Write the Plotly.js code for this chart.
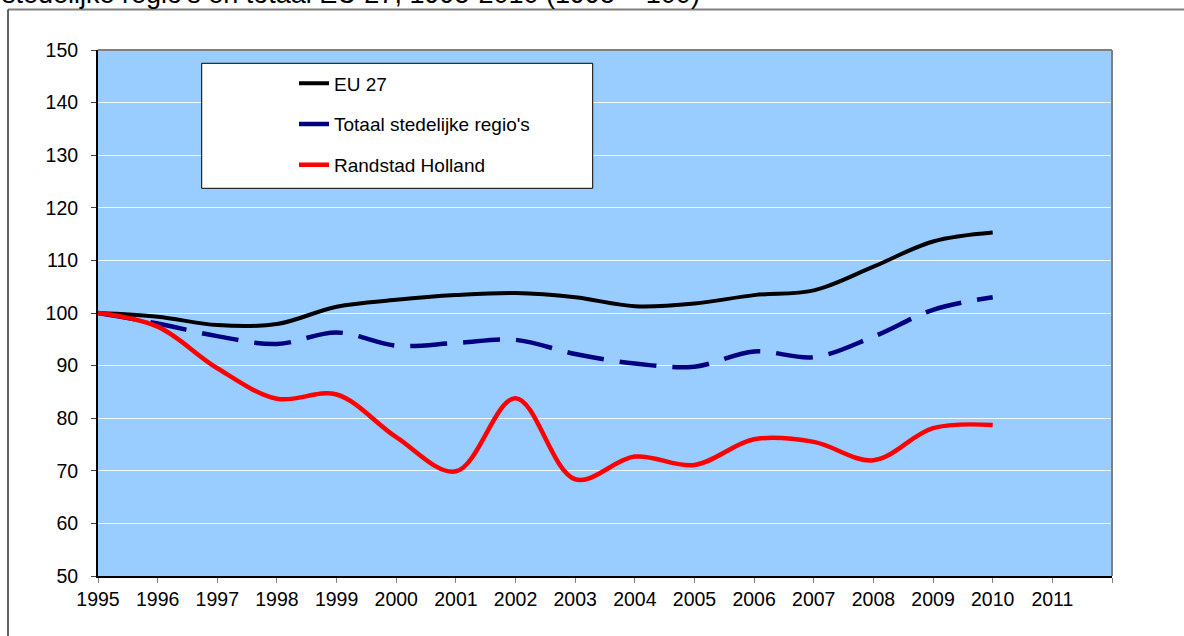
<!DOCTYPE html>
<html>
<head>
<meta charset="utf-8">
<script src="https://cdn.plot.ly/plotly-3.0.1.min.js"></script>
<style>
  html, body { margin: 0; padding: 0; background: #ffffff; }
  #chart { width: 1184px; height: 636px; }
</style>
</head>
<body>
<div id="chart"></div>
<script>
// ---- data ----
var years = [1995, 1996, 1997, 1998, 1999, 2000, 2001, 2002, 2003, 2004, 2005, 2006, 2007, 2008, 2009, 2010];
var eu27 = [100, 99.3, 97.7, 97.9, 101.2, 102.5, 103.4, 103.8, 103.0, 101.3, 101.8, 103.4, 104.3, 108.8, 113.6, 115.3];
var stedelijk = [100, 98.0, 95.6, 94.1, 96.3, 93.8, 94.3, 94.9, 92.2, 90.4, 89.8, 92.7, 91.6, 95.5, 100.6, 103.0];
var randstad = [100, 97.4, 89.5, 83.7, 84.5, 76.4, 69.9, 83.8, 68.4, 72.7, 71.1, 76.0, 75.5, 72.0, 78.1, 78.7];
var xTickVals = [1995, 1996, 1997, 1998, 1999, 2000, 2001, 2002, 2003, 2004, 2005, 2006, 2007, 2008, 2009, 2010, 2011, 2012];
var xTickText = ['1995', '1996', '1997', '1998', '1999', '2000', '2001', '2002', '2003', '2004', '2005', '2006', '2007', '2008', '2009', '2010', '2011', ''];
var seriesNames = ['EU 27', "Totaal stedelijke regio's", 'Randstad Holland'];
var titleText = "stedelijke regio's en totaal EU 27, 1995-2010 (1995 = 100)";

var FONT = 'Arial, "Liberation Sans", sans-serif';

var traces = [
  {
    x: years, y: eu27, name: seriesNames[0], legendgroup: 'a',
    type: 'scatter', mode: 'lines',
    line: { color: '#000000', width: 4, shape: 'spline', smoothing: 1 }
  },
  {
    x: years, y: stedelijk, name: seriesNames[1], legendgroup: 'b',
    type: 'scatter', mode: 'lines',
    line: { color: '#000080', width: 4.5, shape: 'spline', smoothing: 1, dash: '37px,16px' }
  },
  {
    x: years, y: randstad, name: seriesNames[2], legendgroup: 'c',
    type: 'scatter', mode: 'lines',
    line: { color: '#FF0000', width: 4.5, shape: 'spline', smoothing: 1 }
  }
];

// pixel helpers for decorations (plot area: x 98..1112, y 50..576)
function px(xp) { return (xp - 98) / 1014; }
function py(yp) { return (576 - yp) / 526; }

var layout = {
  width: 1184, height: 636,
  margin: { l: 98, r: 72, t: 50, b: 60, pad: 0 },
  paper_bgcolor: '#ffffff',
  plot_bgcolor: '#99CCFF',
  font: { family: FONT, color: '#000000' },
  showlegend: true,
  legend: {
    x: px(294), y: py(64.5), xanchor: 'left', yanchor: 'top',
    bgcolor: 'rgba(0,0,0,0)', borderwidth: 0,
    font: { family: FONT, size: 19, color: '#000000' },
    traceorder: 'grouped', tracegroupgap: 13
  },
  xaxis: {
    range: [1995, 2012],
    tickmode: 'array', tickvals: xTickVals, ticktext: xTickText,
    ticks: 'outside', ticklen: 5, tickwidth: 1, tickcolor: '#808080',
    showline: true, linecolor: '#000000', linewidth: 2,
    showgrid: false, zeroline: false,
    tickfont: { family: FONT, size: 19.5, color: '#000000' },
    fixedrange: true
  },
  yaxis: {
    range: [50, 150], dtick: 10, tick0: 50,
    ticks: 'outside', ticklen: 5, tickwidth: 1, tickcolor: '#404040',
    showline: true, linecolor: '#000000', linewidth: 2,
    showgrid: true, gridcolor: 'rgba(255,255,255,0.85)', gridwidth: 1,
    zeroline: false,
    ticklabelstandoff: 9,
    tickfont: { family: FONT, size: 19.5, color: '#000000' },
    fixedrange: true
  },
  annotations: [
    {
      text: titleText, showarrow: false,
      xref: 'paper', yref: 'paper', x: px(0), y: py(11),
      xanchor: 'left', yanchor: 'bottom',
      font: { family: FONT, size: 27, color: '#000000' }
    }
  ],
  shapes: [
    // outer chart frame (top and left visible)
    { type: 'line', xref: 'paper', yref: 'paper', x0: px(8), x1: px(1200), y0: py(9.5), y1: py(9.5),
      line: { color: '#808080', width: 2 } },
    { type: 'line', xref: 'paper', yref: 'paper', x0: px(8), x1: px(8), y0: py(9.5), y1: py(660),
      line: { color: '#303030', width: 1.5 } },
    // plot area top/right border
    { type: 'line', xref: 'paper', yref: 'paper', x0: 0, x1: 1, y0: 1, y1: 1,
      line: { color: '#808080', width: 2 } },
    { type: 'line', xref: 'paper', yref: 'paper', x0: 1, x1: 1, y0: 0, y1: 1,
      line: { color: '#808080', width: 2 } },
    // legend box
    { type: 'rect', xref: 'paper', yref: 'paper', layer: 'above',
      x0: px(201.7), x1: px(592.7), y0: py(188.3), y1: py(63.3),
      fillcolor: '#ffffff', line: { color: '#000000', width: 1 } }
  ]
};

Plotly.newPlot('chart', traces, layout, { staticPlot: true, displayModeBar: false });
</script>
</body>
</html>
